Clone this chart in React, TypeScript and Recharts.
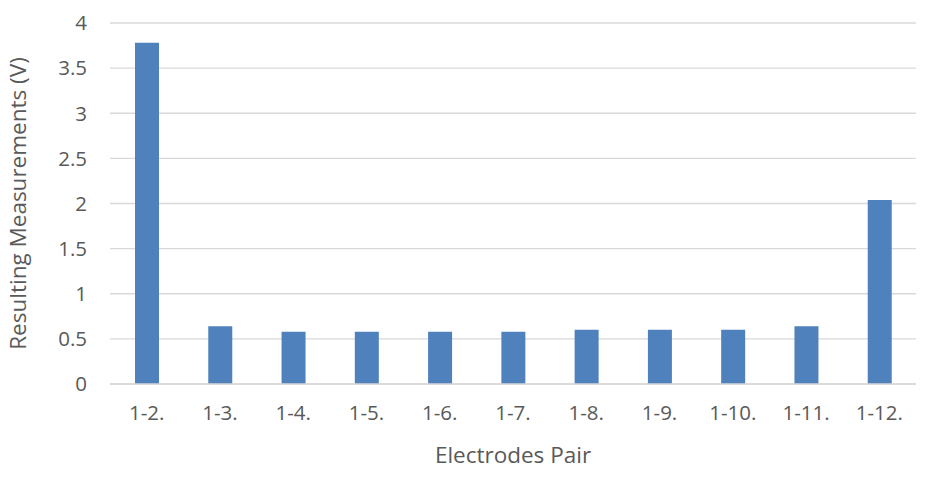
import React from "react";
import {
  BarChart,
  Bar,
  XAxis,
  YAxis,
  CartesianGrid,
  Label,
} from "recharts";

const pairs = [
  "1-2.",
  "1-3.",
  "1-4.",
  "1-5.",
  "1-6.",
  "1-7.",
  "1-8.",
  "1-9.",
  "1-10.",
  "1-11.",
  "1-12.",
];
const voltages = [3.78, 0.64, 0.58, 0.58, 0.58, 0.58, 0.6, 0.6, 0.6, 0.64, 2.04];
const yTicks = [0, 0.5, 1, 1.5, 2, 2.5, 3, 3.5, 4];

const data = pairs.map((pair, i) => ({ pair, value: voltages[i] }));

const textColor = "#595959";
const font = "'Open Sans', 'Noto Sans', sans-serif";

const App: React.FC = () => {
  return (
    <div style={{ position: "absolute", left: 0, top: 0, background: "#fff" }}>
      <BarChart
        width={935}
        height={477}
        data={data}
        margin={{ top: 23, right: 19, left: 0, bottom: 0 }}
        style={{ fontFamily: font }}
      >
        <CartesianGrid vertical={false} stroke="#D9D9D9" strokeWidth={1.3} />
        <XAxis
          dataKey="pair"
          height={93}
          axisLine={{ stroke: "#D9D9D9", strokeWidth: 1.3 }}
          tickLine={false}
          tickSize={0}
          tickMargin={21}
          tick={{ fill: textColor, fontSize: 20.5 }}
          interval={0}
        >
          <Label
            value="Electrodes Pair"
            position="insideBottom"
            offset={14}
            style={{ fill: textColor, fontSize: 22.5 }}
          />
        </XAxis>
        <YAxis
          width={110}
          domain={[0, 4]}
          ticks={yTicks}
          axisLine={false}
          tickLine={false}
          tickSize={0}
          tickMargin={23}
          tick={{ fill: textColor, fontSize: 20.5 }}
        >
          <Label
            value="Resulting Measurements (V)"
            angle={-90}
            position="insideLeft"
            offset={18}
            style={{ fill: textColor, fontSize: 22.5, textAnchor: "middle" }}
          />
        </YAxis>
        <Bar dataKey="value" fill="#4F81BD" barSize={24} isAnimationActive={false} />
      </BarChart>
    </div>
  );
};

export default App;
